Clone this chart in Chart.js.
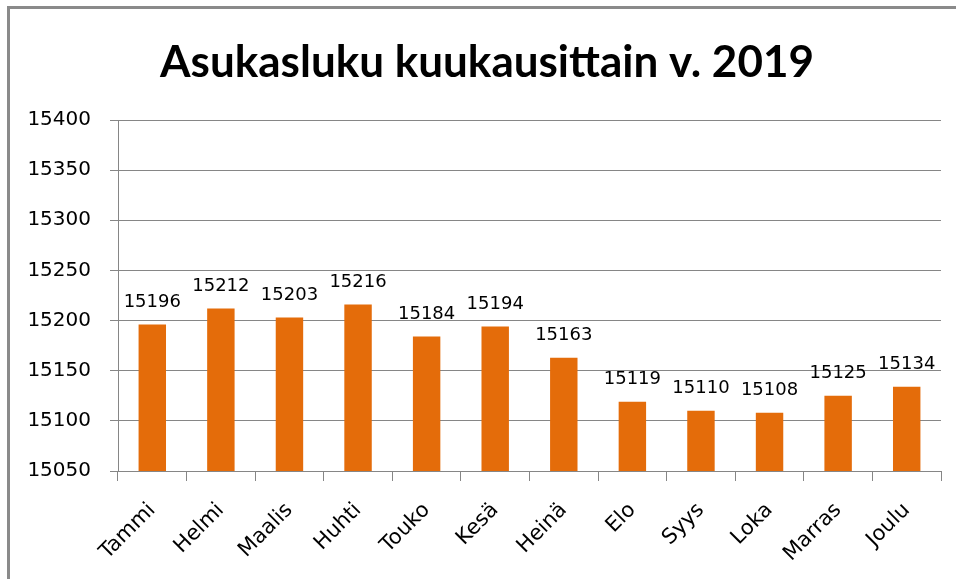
<!DOCTYPE html>
<html>
<head>
<meta charset="utf-8">
<script src="https://cdn.jsdelivr.net/npm/chart.js@4.4.1/dist/chart.umd.min.js"></script>
<style>
  html, body { margin: 0; padding: 0; background: #fff; }
  #wrap { position: relative; width: 956px; height: 579px; overflow: hidden; }
  #frame {
    position: absolute; left: 7px; top: 6px; width: 1000px; height: 700px;
    border-left: 3px solid #8a8a8a; border-top: 3px solid #8a8a8a;
  }
  #chart { position: absolute; left: 0; top: 0; }
</style>
</head>
<body>
<div id="wrap">
  <div id="frame"></div>
  <canvas id="chart" width="956" height="579"></canvas>
</div>
<script>
// months and population per month, 2019
var months = ['Tammi', 'Helmi', 'Maalis', 'Huhti', 'Touko', 'Kesä', 'Heinä', 'Elo', 'Syys', 'Loka', 'Marras', 'Joulu'];
var population = [15196, 15212, 15203, 15216, 15184, 15194, 15163, 15119, 15110, 15108, 15125, 15134];
var yMin = 15050;
var yMax = 15400;
var yStep = 50;
var titleText = 'Asukasluku kuukausittain v. 2019';

// numbers above the bars
var valueLabels = {
    id: 'valueLabels',
    afterDatasetsDraw: function (chart) {
        var ctx = chart.ctx;
        var meta = chart.getDatasetMeta(0);
        ctx.save();
        ctx.font = '18px "DejaVu Sans"';
        ctx.fillStyle = '#000';
        ctx.textAlign = 'center';
        ctx.textBaseline = 'alphabetic';
        for (i = 0; i < meta.data.length; i++) {
            var bar = meta.data[i];
            ctx.fillText(String(population[i]), bar.x, bar.y - 18);
        }
        ctx.restore();
    }
};

// title sits a bit right of the canvas centre, like in the original
var chartTitle = {
    id: 'chartTitle',
    afterDraw: function (chart) {
        var ctx = chart.ctx;
        ctx.save();
        ctx.font = 'bold 44px Lato';
        ctx.fillStyle = '#000';
        ctx.textAlign = 'center';
        ctx.textBaseline = 'alphabetic';
        ctx.fillText(titleText, 487, 77);
        ctx.restore();
    }
};

new Chart(document.getElementById('chart'), {
    type: 'bar',
    data: {
        labels: months,
        datasets: [
            {
                label: 'Asukasluku',
                backgroundColor: '#E46C0A',
                data: population,
                barPercentage: 0.4,
                categoryPercentage: 1.0
            }
        ]
    },
    plugins: [valueLabels, chartTitle],
    options: {
        responsive: false,
        animation: false,
        layout: { padding: { left: 0, right: 15, top: 120, bottom: 0 } },
        plugins: {
            legend: { display: false },
            tooltip: { enabled: false },
            title: { display: false }
        },
        scales: {
            x: {
                grid: {
                    display: true,
                    drawOnChartArea: false,
                    drawTicks: true,
                    tickLength: 10,
                    color: '#868686',
                    offset: true
                },
                border: { display: true, color: '#868686', width: 1 },
                ticks: {
                    color: '#000',
                    font: { family: 'DejaVu Sans', size: 21 },
                    minRotation: 45,
                    maxRotation: 45,
                    autoSkip: false,
                    padding: 17
                },
                afterFit: function (scale) { scale.height = 108; }
            },
            y: {
                min: yMin,
                max: yMax,
                grid: {
                    color: '#868686',
                    tickLength: 8
                },
                border: { display: true, color: '#868686', width: 1 },
                ticks: {
                    stepSize: yStep,
                    color: '#000',
                    font: { family: 'DejaVu Sans', size: 20 },
                    padding: 19,
                    callback: function (value) { return String(value); }
                },
                afterFit: function (scale) { scale.width = 118; }
            }
        }
    }
});
</script>
</body>
</html>
